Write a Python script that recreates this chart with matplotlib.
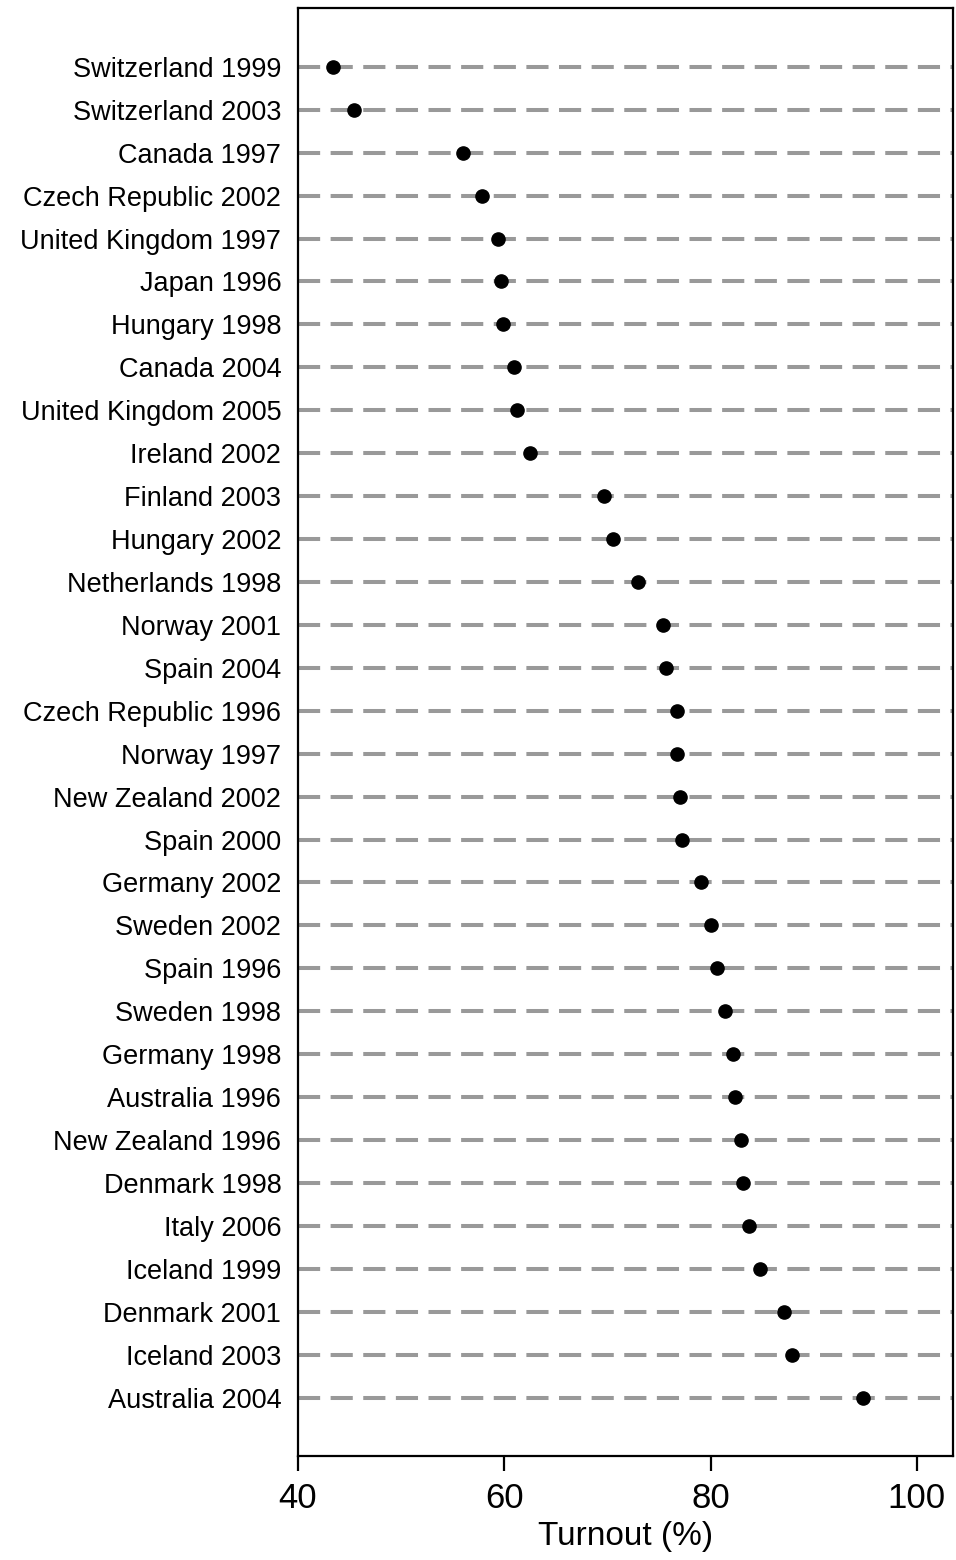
import matplotlib
matplotlib.use("Agg")
import matplotlib.pyplot as plt

labels = ["Switzerland 1999", "Switzerland 2003", "Canada 1997", "Czech Republic 2002",
          "United Kingdom 1997", "Japan 1996", "Hungary 1998", "Canada 2004",
          "United Kingdom 2005", "Ireland 2002", "Finland 2003", "Hungary 2002",
          "Netherlands 1998", "Norway 2001", "Spain 2004", "Czech Republic 1996",
          "Norway 1997", "New Zealand 2002", "Spain 2000", "Germany 2002",
          "Sweden 2002", "Spain 1996", "Sweden 1998", "Germany 1998",
          "Australia 1996", "New Zealand 1996", "Denmark 1998", "Italy 2006",
          "Iceland 1999", "Denmark 2001", "Iceland 2003", "Australia 2004"]
turnout = [43.4, 45.4, 56.0, 57.8, 59.4, 59.7, 59.9, 60.9, 61.2, 62.5,
           69.7, 70.5, 73.0, 75.4, 75.7, 76.7, 76.7, 77.0, 77.2, 79.1,
           80.0, 80.6, 81.4, 82.2, 82.4, 82.9, 83.1, 83.7, 84.8, 87.1,
           87.9, 94.8]
xticks = [40, 60, 80, 100]

plt.rcParams['font.family'] = ['Liberation Sans', 'DejaVu Sans']

fig = plt.figure(figsize=(9.56, 15.6), dpi=100)
ax = fig.add_axes([298/956, 1 - 1456/1560, (953-298)/956, (1456-8)/1560])

ypos = list(range(len(labels)))
xmin, xmax = 40, 103.5
for y in ypos:
    ax.plot([xmin, xmax], [y, y], color='#999999', lw=2.9,
            dashes=(5.5, 2.6), solid_capstyle='butt', dash_capstyle='butt', zorder=1)
ax.plot(turnout, ypos, 'o', color='black', markersize=9.5, zorder=3)

ax.set_xlim(xmin, xmax)
ax.set_ylim(len(labels) - 1 + 1.36, -1.37)
ax.set_yticks(ypos)
ax.set_yticklabels(labels, fontsize=19.5)
ax.tick_params(axis='y', length=0, pad=12)
ax.set_xticks(xticks)
ax.set_xticklabels([str(v) for v in xticks], fontsize=25)
ax.tick_params(axis='x', length=11, width=1.6, pad=8)
ax.set_xlabel("Turnout (%)", fontsize=24, labelpad=4)
for s in ax.spines.values():
    s.set_linewidth(1.6)

fig.savefig("out.png", dpi=100)
